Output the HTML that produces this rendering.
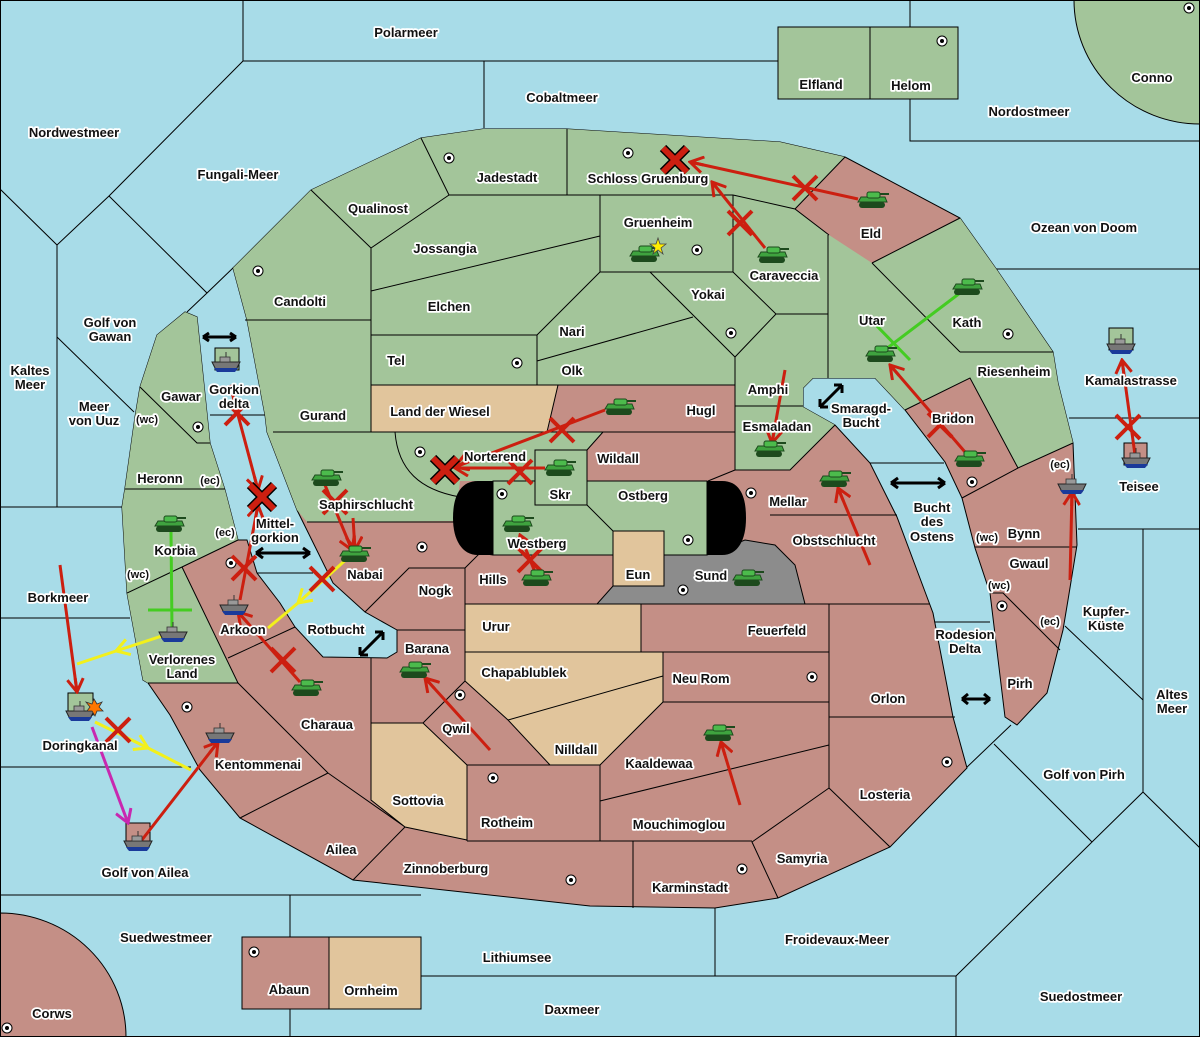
<!DOCTYPE html>
<html><head><meta charset="utf-8"><style>
html,body{margin:0;padding:0;background:#a8dce8}
svg{display:block}
text{font-family:"Liberation Sans",sans-serif;font-weight:bold;font-size:13px;fill:#111;stroke:#fff;stroke-width:3.5px;paint-order:stroke;stroke-linejoin:round;text-anchor:middle}
.b{fill:none;stroke:#000;stroke-width:1}
.r{stroke:#cc1f10;stroke-width:3;fill:none}
.y{stroke:#f2f01c;stroke-width:3;fill:none}
.g{stroke:#44cc22;stroke-width:3;fill:none}
</style></head><body>
<svg width="1200" height="1037" viewBox="0 0 1200 1037" xmlns="http://www.w3.org/2000/svg">
<defs>
<marker id="ar" viewBox="-14 -9 16 18" refX="0" refY="0" markerWidth="16" markerHeight="18" markerUnits="userSpaceOnUse" orient="auto"><path d="M-13,-8 L0,0 L-13,8 M0,0 L-14,0" stroke="#cc1f10" stroke-width="3" fill="none"/></marker>
<marker id="ay" viewBox="-14 -9 16 18" refX="0" refY="0" markerWidth="16" markerHeight="18" markerUnits="userSpaceOnUse" orient="auto"><path d="M-13,-8 L0,0 L-13,8" stroke="#f2f01c" stroke-width="3" fill="none"/></marker>
<marker id="am" viewBox="-14 -9 16 18" refX="0" refY="0" markerWidth="16" markerHeight="18" markerUnits="userSpaceOnUse" orient="auto"><path d="M-13,-8 L0,0 L-13,8" stroke="#c828b0" stroke-width="3" fill="none"/></marker>
<g id="tank"><rect x="-14" y="2" width="26" height="6" rx="3" fill="#1d4a1d"/><path d="M-15,2 L-12,-3 L12,-3 L14,2 Z" fill="#3fa33f" stroke="#1d4a1d" stroke-width="1"/><rect x="-6" y="-8" width="13" height="6" rx="2" fill="#4cbb4c" stroke="#1d4a1d" stroke-width="1"/><line x1="7" y1="-6" x2="16" y2="-6" stroke="#1d4a1d" stroke-width="2"/></g>
<g id="ship"><path d="M-14,-2 L14,-2 L10,6 L-10,6 Z" fill="#777" stroke="#222" stroke-width="1"/><path d="M-12,4 L12,4 L9,8 L-9,8 Z" fill="#1a3a9a"/><rect x="-6" y="-7" width="10" height="5" fill="#999" stroke="#333" stroke-width="0.8"/><line x1="0" y1="-12" x2="0" y2="-7" stroke="#333"/></g>
<g id="dot"><circle r="5" fill="#fff" stroke="#000" stroke-width="1"/><circle r="2" fill="#000"/></g>
<g id="xs"><path d="M-12,-12 L12,12 M12,-12 L-12,12" stroke="#cc1f10" stroke-width="4"/></g>
<g id="xb"><path d="M-12,-12 L12,12 M12,-12 L-12,12" stroke="#000" stroke-width="9"/><path d="M-12,-12 L12,12 M12,-12 L-12,12" stroke="#cc1f10" stroke-width="6"/></g>
</defs>
<rect width="1200" height="1037" fill="#a8dce8"/>
<g class="b">
<path d="M243,0 V61 H778 M484,61 V128 M243,61 L109,196 L57,245 M0,189 L57,245 V507 M0,507 H122 M109,196 L207,293 L234,267 M207,293 L187,312 M57,337 L134,412"/>
<path d="M910,0 V27 M910,99 V141 H1200 M996,269 H1200 M1069,418 H1200 M1078,529 H1200 M1143,529 V792 L1092,842 L956,976 V1037 M1143,792 L1200,848 M1092,842 L994,744 M1065,626 L1143,700 M1011,725 L965,769"/>
<path d="M0,618 H130 M0,767 H191 M0,895 H421 M290,895 V1037 M421,976 H600 M600,976 H956 M715,908 V976"/>
<path d="M868,463 H944 M933,622 H990 M210,415 H267 M255,573 H313"/>
</g>
<path d="M1074,0 A126,124 0 0 0 1200,124 V0 Z" fill="#a3c59a" stroke="#000"/>
<path d="M0,913 A126,124 0 0 1 126,1037 H0 Z" fill="#c48f86" stroke="#000"/>
<rect x="778" y="27" width="92" height="72" fill="#a3c59a" stroke="#000"/>
<rect x="870" y="27" width="88" height="72" fill="#a3c59a" stroke="#000"/>
<rect x="242" y="937" width="87" height="72" fill="#c48f86" stroke="#000"/>
<rect x="329" y="937" width="92" height="72" fill="#e1c59c" stroke="#000"/>
<rect x="1109" y="328" width="24" height="22" fill="#a3c59a" stroke="#000"/>
<rect x="1124" y="443" width="23" height="22" fill="#c48f86" stroke="#000"/>
<rect x="215" y="348" width="24" height="22" fill="#a3c59a" stroke="#000"/>
<rect x="68" y="693" width="25" height="22" fill="#a3c59a" stroke="#000"/>
<rect x="126" y="823" width="24" height="22" fill="#c48f86" stroke="#000"/>
<path d="M233,268 L311,190 L421,138 L483,129 L567,129 L780,142 L845,157 L960,218 L997,270 L1053,352 L1058,383 L1073,443 L1077,545 L1068,600 L1063,630 L1047,693 L1017,725 L1005,717 L990,593 L975,548 L962,498 L945,462 L905,410 L875,378 L813,378 L803,388 L803,407 L835,425 L870,463 L897,517 L927,597 L933,613 L953,717 L967,768 L890,847 L778,898 L715,908 L590,906 L353,880 L240,818 L200,770 L170,715 L148,683 L143,680 L127,593 L122,507 L125,488 L135,417 L140,387 L157,335 L185,312 L197,317 L210,443 L225,490 L238,540 L247,540 L257,573 L280,603 L295,627 L323,657 L387,658 L397,652 L397,630 L365,612 L333,583 L297,510 L267,432 L265,415 L247,320 Z" fill="#c48f86" stroke="#000"/>
<path d="M233,268 L311,190 L421,138 L483,129 L567,129 L780,142 L845,157 L795,209 L829,235 L872,263 L960,218 L997,270 L1053,352 L1058,383 L1073,443 L1018,468 L970,378 L905,410 L875,378 L813,378 L803,388 L803,407 L835,425 L790,470 L735,470 L708,481 L460,481 L455,521 L307,522 L297,510 L267,432 L265,415 L247,320 Z" fill="#a3c59a"/>
<path d="M185,312 L197,317 L210,443 L225,490 L238,540 L182,567 L238,683 L148,683 L143,680 L127,593 L122,507 L125,488 L135,417 L140,387 L157,335 Z" fill="#a3c59a"/>
<path d="M558,385 L735,385 L735,432 L547,432 Z" fill="#c48f86"/>
<path d="M371,385 L558,385 L547,432 L371,432 Z" fill="#e1c59c"/>
<path d="M603,432 L735,432 L735,470 L708,481 L587,481 L587,450 Z" fill="#c48f86"/>
<rect x="493" y="481" width="214" height="74" fill="#a3c59a" stroke="#000"/>
<rect x="535" y="450" width="52" height="55" fill="#a3c59a" stroke="#000"/>
<path d="M745,540 L775,545 L795,565 L805,604 L597,604 L613,586 L664,586 L664,555 L707,555 Z" fill="#8c8c8c" stroke="#000"/>
<rect x="613" y="531" width="51" height="55" fill="#e1c59c" stroke="#000"/>
<path d="M465,604 H641 V652 H465 Z" fill="#e1c59c"/>
<path d="M465,652 H663 V676 L508,720 L465,681 Z" fill="#e1c59c"/>
<path d="M508,720 L663,676 V702 L600,765 L550,765 Z" fill="#e1c59c"/>
<path d="M371,723 L423,723 L467,765 L467,840 L405,827 L371,800 Z" fill="#e1c59c"/>
<path d="M493,481 L478,481 C458,481 453,500 453,518 C453,540 462,555 478,555 L493,555 Z" fill="#000"/>
<path d="M707,481 L722,481 C742,481 746,500 746,518 C746,540 738,555 722,555 L707,555 Z" fill="#000"/>
<g class="b">
<path d="M421,138 L449,195 H733 M567,129 V195 M733,195 L795,209 L829,235 M795,209 L845,157 M311,190 L371,248 L449,195 M371,248 V432 M245,320 H371 M371,291 L600,236 M371,335 H537 V385 M537,335 L600,272 M537,361 L693,317"/>
<path d="M600,195 V272 H733 V195 M650,272 L735,357 L776,314 L733,272 M776,314 H828 M828,235 V378 M735,357 V470 M735,406 H803 M371,385 H735 M558,385 L547,432 M273,432 H735 M395,432 C398,470 420,490 460,497 M603,432 L587,450 M735,470 L708,481 M587,505 L613,531 M307,522 H455"/>
<path d="M872,263 L960,352 M960,218 L872,263 M960,352 H1053 M905,410 L970,378 L1018,468 L1073,443 M962,498 L1018,468 M975,547 H1077 M990,593 H1003 L1060,650 M835,425 L790,470 H735 M770,515 H897 M597,604 H930"/>
<path d="M641,604 V652 M465,652 H829 M829,604 V788 M663,652 V702 H829 M829,717 H955 M600,801 L829,745 M600,765 V841 M829,788 L752,842 L778,898 M829,788 L890,847 M467,841 H752 M633,841 V908 M663,676 L508,720 M465,681 L508,720 L550,765 M467,765 H600 M663,702 L600,765 M423,723 L465,681 M371,723 H423 L467,765 V841 M465,568 V681 M371,658 V800 L405,827 L467,840 M405,827 L353,880 M328,773 L405,827 M328,773 L240,818 M238,683 L328,773"/>
<path d="M365,612 L409,568 H465 L480,553 L493,555 M397,630 H465 M465,604 H597 M182,567 L238,540 M182,567 L238,683 H148 M228,658 L295,627 M140,387 L197,443 H210 M125,489 H225 M127,593 L182,567"/>
</g>
<g>
<use href="#dot" x="449" y="158"/><use href="#dot" x="628" y="153"/><use href="#dot" x="942" y="41"/><use href="#dot" x="697" y="250"/><use href="#dot" x="731" y="333"/><use href="#dot" x="1008" y="334"/><use href="#dot" x="258" y="271"/><use href="#dot" x="517" y="363"/><use href="#dot" x="198" y="427"/><use href="#dot" x="420" y="452"/><use href="#dot" x="502" y="494"/><use href="#dot" x="688" y="540"/><use href="#dot" x="683" y="590"/><use href="#dot" x="422" y="547"/><use href="#dot" x="231" y="563"/><use href="#dot" x="460" y="695"/><use href="#dot" x="187" y="707"/><use href="#dot" x="493" y="778"/><use href="#dot" x="571" y="880"/><use href="#dot" x="742" y="869"/><use href="#dot" x="812" y="677"/><use href="#dot" x="947" y="762"/><use href="#dot" x="1002" y="606"/><use href="#dot" x="972" y="482"/><use href="#dot" x="751" y="493"/><use href="#dot" x="254" y="952"/><use href="#dot" x="7" y="1028"/><use href="#dot" x="1189" y="8"/>
</g>
<path d="M203,337 H236 M203,337 l6,-4 M203,337 l6,4 M236,337 l-6,-4 M236,337 l-6,4" stroke="#000" stroke-width="3" fill="none"/>
<path d="M256,553 H310 M256,553 l7,-5 M256,553 l7,5 M310,553 l-7,-5 M310,553 l-7,5" stroke="#000" stroke-width="3" fill="none"/>
<path d="M360,655 L383,632 M360,655 v-8 M360,655 h8 M383,632 h-8 M383,632 v8" stroke="#000" stroke-width="3" fill="none"/>
<path d="M820,407 L842,385 M820,407 v-8 M820,407 h8 M842,385 h-8 M842,385 v8" stroke="#000" stroke-width="3" fill="none"/>
<path d="M891,483 H945 M891,483 l7,-5 M891,483 l7,5 M945,483 l-7,-5 M945,483 l-7,5" stroke="#000" stroke-width="3" fill="none"/>
<path d="M962,699 H990 M962,699 l6,-5 M962,699 l6,5 M990,699 l-6,-5 M990,699 l-6,5" stroke="#000" stroke-width="3" fill="none"/>
<g class="r">
<path d="M858,199 L690,162" marker-end="url(#ar)"/>
<path d="M765,248 L712,182" marker-end="url(#ar)"/>
<path d="M605,410 L455,467" marker-end="url(#ar)"/>
<path d="M545,468 L455,468" marker-end="url(#ar)"/>
<path d="M535,572 L520,535" marker-end="url(#ar)"/>
<path d="M965,452 L890,365" marker-end="url(#ar)"/>
<path d="M785,370 L772,443" marker-end="url(#ar)"/>
<path d="M870,565 L838,488" marker-end="url(#ar)"/>
<path d="M740,805 L721,742" marker-end="url(#ar)"/>
<path d="M490,750 L425,678" marker-end="url(#ar)"/>
<path d="M300,682 L238,612" marker-end="url(#ar)"/>
<path d="M240,600 L258,505" marker-end="url(#ar)"/>
<path d="M230,385 L258,490" marker-end="url(#ar)"/>
<path d="M325,485 L352,550" marker-end="url(#ar)"/>
<path d="M353,518 L355,550" marker-end="url(#ar)"/>
<path d="M60,565 L77,692" marker-end="url(#ar)"/>
<path d="M138,845 L218,742" marker-end="url(#ar)"/>
<path d="M1070,580 L1072,492" marker-end="url(#ar)"/>
<path d="M1135,455 L1122,360" marker-end="url(#ar)"/>
</g>
<path d="M92,727 L128,823" stroke="#c828b0" stroke-width="3" fill="none" marker-end="url(#am)"/>
<g class="y">
<path d="M350,556 L298,603" marker-end="url(#ay)"/><path d="M298,603 L268,628"/>
<path d="M165,635 L116,651" marker-end="url(#ay)"/><path d="M116,651 L77,664"/>
<path d="M95,722 L148,748" marker-end="url(#ay)"/><path d="M148,748 L191,770"/>
</g>
<path d="M960,293 L882,352 M873,322 L910,360" class="g"/>
<path d="M171,532 L172,630 M148,610 L192,610" class="g"/>
<g>
<use href="#xs" x="805" y="188"/><use href="#xs" x="740" y="223"/><use href="#xs" x="562" y="430"/><use href="#xs" x="520" y="472"/><use href="#xs" x="530" y="560"/><use href="#xs" x="940" y="425"/><use href="#xs" x="283" y="660"/><use href="#xs" x="244" y="568"/><use href="#xs" x="237" y="413"/><use href="#xs" x="335" y="502"/><use href="#xs" x="322" y="579"/><use href="#xs" x="118" y="730"/><use href="#xs" x="1128" y="427"/>
<use href="#xb" x="675" y="160"/><use href="#xb" x="445" y="470"/><use href="#xb" x="262" y="497"/>
</g>
<g>
<use href="#tank" x="873" y="200"/><use href="#tank" x="773" y="255"/><use href="#tank" x="645" y="254"/><use href="#tank" x="968" y="287"/><use href="#tank" x="881" y="354"/><use href="#tank" x="970" y="459"/><use href="#tank" x="770" y="449"/><use href="#tank" x="835" y="479"/><use href="#tank" x="620" y="407"/><use href="#tank" x="560" y="468"/><use href="#tank" x="518" y="524"/><use href="#tank" x="537" y="578"/><use href="#tank" x="748" y="578"/><use href="#tank" x="719" y="733"/><use href="#tank" x="415" y="670"/><use href="#tank" x="307" y="688"/><use href="#tank" x="355" y="554"/><use href="#tank" x="327" y="478"/><use href="#tank" x="170" y="524"/>
<use href="#ship" x="226" y="364"/><use href="#ship" x="173" y="634"/><use href="#ship" x="234" y="607"/><use href="#ship" x="80" y="713"/><use href="#ship" x="220" y="735"/><use href="#ship" x="138" y="843"/><use href="#ship" x="1072" y="486"/><use href="#ship" x="1121" y="346"/><use href="#ship" x="1136" y="460"/>
</g>
<path d="M658,238 L660,244 L666,244 L661,248 L663,254 L658,250 L653,254 L655,248 L650,244 L656,244 Z" fill="#ffee00" stroke="#444" stroke-width="0.8"/>
<path d="M94,699 L97,704 L102,702 L99,707 L103,711 L97,711 L95,716 L92,711 L87,711 L90,707 L86,702 L92,704 Z" fill="#ff7700" stroke="#333" stroke-width="0.8"/>
<g>
<text x="406" y="37">Polarmeer</text><text x="562" y="102">Cobaltmeer</text><text x="74" y="137">Nordwestmeer</text><text x="238" y="179">Fungali-Meer</text>
<text x="821" y="89">Elfland</text><text x="911" y="90">Helom</text><text x="1152" y="82">Conno</text><text x="1029" y="116">Nordostmeer</text>
<text x="507" y="182">Jadestadt</text><text x="648" y="183">Schloss Gruenburg</text><text x="378" y="213">Qualinost</text><text x="658" y="227">Gruenheim</text>
<text x="1084" y="232">Ozean von Doom</text><text x="871" y="238">Eld</text><text x="445" y="253">Jossangia</text><text x="784" y="280">Caraveccia</text><text x="708" y="299">Yokai</text>
<text x="300" y="306">Candolti</text><text x="449" y="311">Elchen</text><text x="967" y="327">Kath</text><text x="872" y="325">Utar</text>
<text x="110" y="327">Golf von</text><text x="110" y="341">Gawan</text><text x="572" y="336">Nari</text><text x="396" y="365">Tel</text><text x="572" y="375">Olk</text>
<text x="30" y="375">Kaltes</text><text x="30" y="389">Meer</text><text x="1014" y="376">Riesenheim</text><text x="1131" y="385">Kamalastrasse</text><text x="768" y="394">Amphi</text>
<text x="181" y="401">Gawar</text><text x="234" y="394">Gorkion</text><text x="234" y="408">delta</text><text x="94" y="411">Meer</text><text x="94" y="425">von Uuz</text>
<text x="147" y="423" style="font-size:11px">(wc)</text><text x="440" y="416">Land der Wiesel</text><text x="701" y="415">Hugl</text><text x="323" y="420">Gurand</text>
<text x="861" y="413">Smaragd-</text><text x="861" y="427">Bucht</text><text x="953" y="423">Bridon</text><text x="777" y="431">Esmaladan</text>
<text x="495" y="461">Norterend</text><text x="618" y="463">Wildall</text><text x="1060" y="468" style="font-size:11px">(ec)</text><text x="160" y="483">Heronn</text><text x="210" y="484" style="font-size:11px">(ec)</text>
<text x="1139" y="491">Teisee</text><text x="560" y="499">Skr</text><text x="643" y="500">Ostberg</text><text x="788" y="506">Mellar</text><text x="366" y="509">Saphirschlucht</text>
<text x="932" y="512">Bucht</text><text x="932" y="526">des</text><text x="932" y="541">Ostens</text><text x="275" y="528">Mittel-</text><text x="275" y="542">gorkion</text>
<text x="225" y="536" style="font-size:11px">(ec)</text><text x="987" y="541" style="font-size:11px">(wc)</text><text x="1024" y="538">Bynn</text><text x="537" y="548">Westberg</text><text x="834" y="545">Obstschlucht</text>
<text x="175" y="555">Korbia</text><text x="638" y="579">Eun</text><text x="365" y="579">Nabai</text><text x="493" y="584">Hills</text><text x="711" y="580">Sund</text><text x="138" y="578" style="font-size:11px">(wc)</text>
<text x="1029" y="568">Gwaul</text><text x="999" y="589" style="font-size:11px">(wc)</text><text x="435" y="595">Nogk</text><text x="58" y="602">Borkmeer</text>
<text x="1106" y="616">Kupfer-</text><text x="1106" y="630">Küste</text><text x="496" y="631">Urur</text><text x="777" y="635">Feuerfeld</text><text x="336" y="634">Rotbucht</text><text x="243" y="634">Arkoon</text>
<text x="1050" y="625" style="font-size:11px">(ec)</text><text x="965" y="639">Rodesion</text><text x="965" y="653">Delta</text><text x="427" y="653">Barana</text>
<text x="182" y="664">Verlorenes</text><text x="182" y="678">Land</text><text x="524" y="677">Chapablublek</text><text x="701" y="683">Neu Rom</text><text x="1020" y="688">Pirh</text><text x="888" y="703">Orlon</text>
<text x="1172" y="699">Altes</text><text x="1172" y="713">Meer</text><text x="456" y="733">Qwil</text><text x="327" y="729">Charaua</text><text x="80" y="750">Doringkanal</text><text x="576" y="754">Nilldall</text>
<text x="659" y="768">Kaaldewaa</text><text x="258" y="769">Kentommenai</text><text x="1084" y="779">Golf von Pirh</text><text x="885" y="799">Losteria</text><text x="418" y="805">Sottovia</text>
<text x="507" y="827">Rotheim</text><text x="679" y="829">Mouchimoglou</text><text x="341" y="854">Ailea</text><text x="802" y="863">Samyria</text><text x="446" y="873">Zinnoberburg</text>
<text x="145" y="877">Golf von Ailea</text><text x="690" y="892">Karminstadt</text><text x="166" y="942">Suedwestmeer</text><text x="837" y="944">Froidevaux-Meer</text><text x="517" y="962">Lithiumsee</text>
<text x="289" y="994">Abaun</text><text x="371" y="995">Ornheim</text><text x="1081" y="1001">Suedostmeer</text><text x="572" y="1014">Daxmeer</text><text x="52" y="1018">Corws</text>
</g>
<rect x="0.5" y="0.5" width="1199" height="1036" fill="none" stroke="#000"/>
</svg>
</body></html>
